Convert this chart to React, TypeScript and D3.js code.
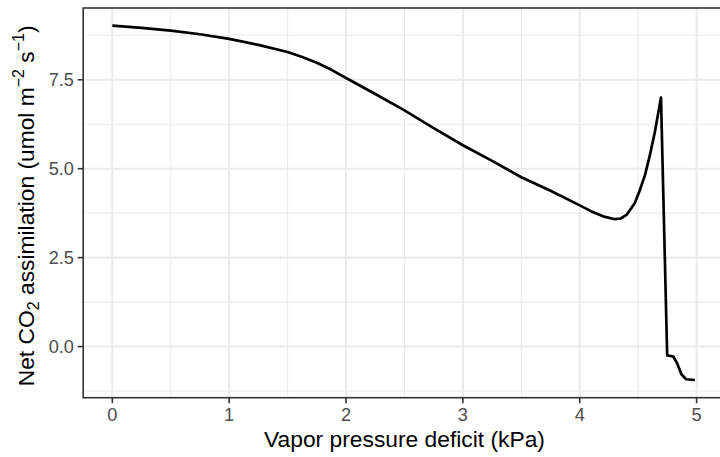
import React from "react";
import * as d3 from "d3";

const vpd = [0, 0.25, 0.5, 0.75, 1.0, 1.25, 1.5, 1.625, 1.75, 1.875, 2.0, 2.25, 2.5, 2.75, 3.0, 3.25, 3.5, 3.75, 4.0, 4.1, 4.2, 4.3, 4.35, 4.4, 4.47, 4.51, 4.558, 4.6, 4.643, 4.695, 4.748, 4.8, 4.83, 4.87, 4.91, 4.985];
const assimilation = [9.02, 8.96, 8.88, 8.78, 8.65, 8.48, 8.28, 8.14, 7.98, 7.78, 7.55, 7.1, 6.64, 6.14, 5.66, 5.22, 4.76, 4.38, 3.97, 3.8, 3.66, 3.58, 3.6, 3.7, 4.03, 4.36, 4.82, 5.38, 6.04, 7.0, -0.25, -0.28, -0.45, -0.78, -0.92, -0.94];

const xMajor = [0, 1, 2, 3, 4, 5];
const xMinor = [0.5, 1.5, 2.5, 3.5, 4.5];
const yMajor = [0, 2.5, 5, 7.5];
const yMinor = [-1.25, 1.25, 3.75, 6.25, 8.75];
const yTickLabels = ["0.0", "2.5", "5.0", "7.5"];
const xTickLabels = ["0", "1", "2", "3", "4", "5"];

const W = 720;
const H = 457;
const panel = { left: 83.2, right: 724, top: 8, bottom: 397.7 };
const FONT = "'Liberation Sans', Arial, Helvetica, sans-serif";

function expand(ext: [number, number]): [number, number] {
  const pad = (ext[1] - ext[0]) * 0.05;
  return [ext[0] - pad, ext[1] + pad];
}

export default function App() {
  const x = d3.scaleLinear().domain(expand(d3.extent(vpd) as [number, number])).range([panel.left, panel.right]);
  const y = d3.scaleLinear().domain(expand(d3.extent(assimilation) as [number, number])).range([panel.bottom, panel.top]);
  const data = vpd.map((v, i) => [v, assimilation[i]] as [number, number]);
  const line = d3.line<[number, number]>().x((d) => x(d[0])).y((d) => y(d[1]));
  const cy = (panel.top + panel.bottom) / 2;
  return (
    <svg width={W} height={H} style={{ position: "absolute", left: 0, top: 0, background: "#fff" }}>
      <defs>
        <clipPath id="pc">
          <rect x={panel.left} y={panel.top} width={panel.right - panel.left} height={panel.bottom - panel.top} />
        </clipPath>
      </defs>
      <rect x={0} y={0} width={W} height={H} fill="#fff" />
      <g clipPath="url(#pc)">
        {xMinor.map((t) => (
          <line key={"xm" + t} x1={x(t)} x2={x(t)} y1={panel.top} y2={panel.bottom} stroke="#EBEBEB" strokeWidth={1.1} />
        ))}
        {yMinor.map((t) => (
          <line key={"ym" + t} y1={y(t)} y2={y(t)} x1={panel.left} x2={panel.right} stroke="#EBEBEB" strokeWidth={1.1} />
        ))}
        {xMajor.map((t) => (
          <line key={"xM" + t} x1={x(t)} x2={x(t)} y1={panel.top} y2={panel.bottom} stroke="#EBEBEB" strokeWidth={2.1} />
        ))}
        {yMajor.map((t) => (
          <line key={"yM" + t} y1={y(t)} y2={y(t)} x1={panel.left} x2={panel.right} stroke="#EBEBEB" strokeWidth={2.1} />
        ))}
        <path d={line(data) || ""} fill="none" stroke="#000" strokeWidth={2.7} strokeLinejoin="round" strokeLinecap="butt" />
      </g>
      <rect x={panel.left} y={panel.top} width={panel.right - panel.left} height={panel.bottom - panel.top} fill="none" stroke="#333" strokeWidth={1.6} />
      {xMajor.map((t, i) => (
        <g key={"xt" + t}>
          <line x1={x(t)} x2={x(t)} y1={panel.bottom} y2={panel.bottom + 5.5} stroke="#333" strokeWidth={1.6} />
          <text x={x(t)} y={421} textAnchor="middle" fontFamily={FONT} fontSize={18.2} fill="#4D4D4D">{xTickLabels[i]}</text>
        </g>
      ))}
      {yMajor.map((t, i) => (
        <g key={"yt" + t}>
          <line x1={panel.left - 5.5} x2={panel.left} y1={y(t)} y2={y(t)} stroke="#333" strokeWidth={1.6} />
          <text x={74} y={y(t)} dy="0.36em" textAnchor="end" fontFamily={FONT} fontSize={18.2} fill="#4D4D4D">{yTickLabels[i]}</text>
        </g>
      ))}
      <text x={404.5} y={446.5} textAnchor="middle" fontFamily={FONT} fontSize={22.8} fill="#000">Vapor pressure deficit (kPa)</text>
      <text transform={`translate(33.5,${cy + 3}) rotate(-90)`} textAnchor="middle" fontFamily={FONT} fontSize={22.8} fill="#000">
        <tspan>Net CO</tspan>
        <tspan fontSize={16} dy={5}>2</tspan>
        <tspan dy={-5}> assimilation (umol m</tspan>
        <tspan fontSize={16} dy={-9.5}>−2</tspan>
        <tspan dy={9.5}> s</tspan>
        <tspan fontSize={16} dy={-9.5}>−1</tspan>
        <tspan dy={9.5}>)</tspan>
      </text>
    </svg>
  );
}
